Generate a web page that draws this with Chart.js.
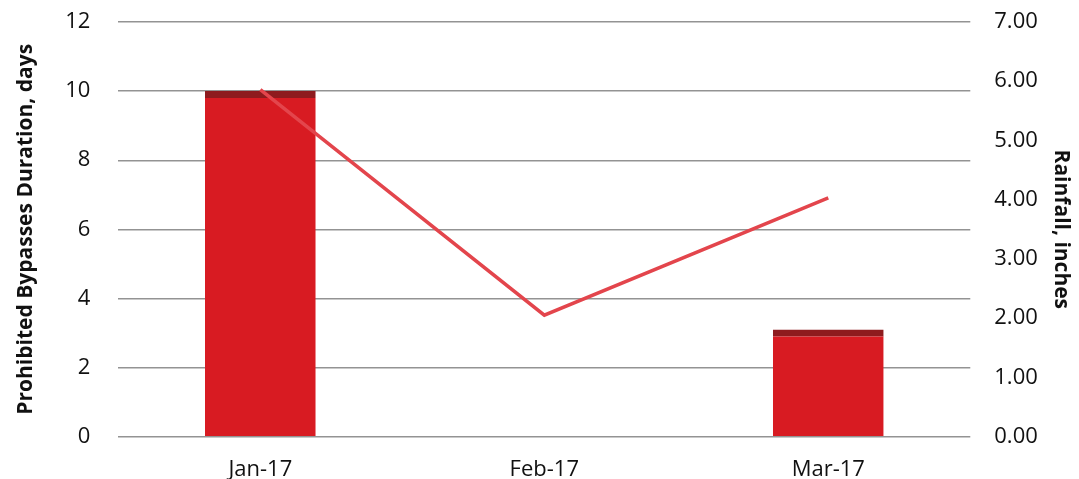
<!DOCTYPE html>
<html>
<head>
<meta charset="utf-8">
<script src="https://cdn.jsdelivr.net/npm/chart.js@4"></script>
<style>
html,body{margin:0;padding:0;background:#fff;}
#wrap{width:1079px;height:479px;position:relative;}
</style>
</head>
<body>
<div id="wrap"><canvas id="c" width="1079" height="479"></canvas></div>
<script>
const categories = ["Jan-17", "Feb-17", "Mar-17"];
const bypassDays = [10, 0, 3.1];
const rainfallInches = [5.86, 2.05, 4.03];
const leftTitle = "Prohibited Bypasses Duration, days";
const rightTitle = "Rainfall, inches";

const font = "'Open Sans', Lato, sans-serif";
const noVertPad = s => { s.paddingTop = 0; s.paddingBottom = 0; };
new Chart(document.getElementById('c'), {
  data: {
    labels: categories,
    datasets: [
      {
        type: 'line',
        label: 'Rainfall',
        data: rainfallInches,
        yAxisID: 'y2',
        borderColor: '#e3454c',
        borderWidth: 3.5,
        pointRadius: 0,
        tension: 0,
        order: 0
      },
      {
        type: 'bar',
        label: 'Bypasses',
        data: bypassDays,
        yAxisID: 'y',
        backgroundColor: '#d81b22',
        borderColor: '#8e1b1e',
        borderWidth: {top: 7, left: 0, right: 0, bottom: 0},
        borderSkipped: 'bottom',
        categoryPercentage: 1,
        barPercentage: 0.39,
        order: 1
      }
    ]
  },
  options: {
    responsive: false,
    animation: false,
    layout: {padding: {left: 13, right: 5, top: 22, bottom: -16}},
    plugins: {legend: {display: false}, tooltip: {enabled: false}},
    scales: {
      x: {
        grid: {display: false},
        border: {display: false},
        ticks: {color: '#111', font: {family: font, size: 22}, padding: 12}
      },
      y: {
        position: 'left',
        min: 0, max: 12,
        afterFit: noVertPad,
        ticks: {stepSize: 2, color: '#111', font: {family: font, size: 22}, padding: 28},
        grid: {color: '#939393', lineWidth: 1.4, drawTicks: false},
        border: {display: false},
        title: {display: true, text: leftTitle, color: '#111', font: {family: font, size: 21, weight: 'bold'}, padding: {top: 0, bottom: -1}}
      },
      y2: {
        position: 'right',
        min: 0, max: 7,
        afterFit: noVertPad,
        ticks: {stepSize: 1, color: '#111', font: {family: font, size: 22}, padding: 24,
          callback: v => Number(v).toFixed(2)},
        grid: {display: false, drawTicks: false},
        border: {display: false},
        title: {display: true, text: rightTitle, color: '#111', font: {family: font, size: 21, weight: 'bold'}, padding: {top: 0, bottom: -13}}
      }
    }
  }
});
</script>
</body>
</html>
